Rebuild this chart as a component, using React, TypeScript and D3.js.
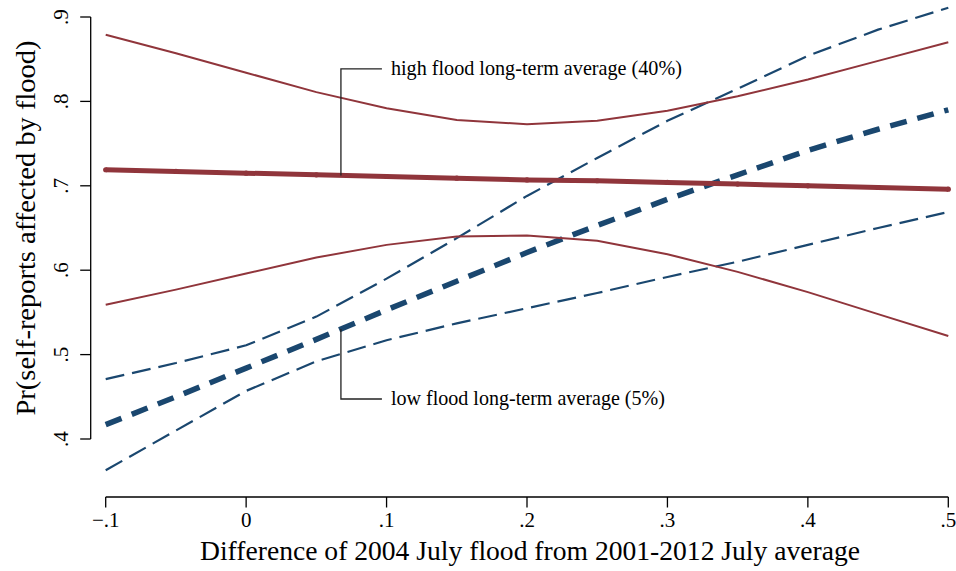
import * as d3 from "d3";

// x grid of the margins plot
const xs = [-0.1, -0.05, 0, 0.05, 0.1, 0.15, 0.2, 0.25, 0.3, 0.35, 0.4, 0.45, 0.5];

// high flood long-term average (40%)
const highMean = [0.719, 0.717, 0.715, 0.713, 0.711, 0.709, 0.707, 0.706, 0.704, 0.702, 0.7, 0.698, 0.696];
const highUpper = [0.879, 0.857, 0.834, 0.811, 0.792, 0.778, 0.773, 0.777, 0.789, 0.806, 0.826, 0.848, 0.87];
const highLower = [0.559, 0.577, 0.596, 0.615, 0.63, 0.64, 0.641, 0.635, 0.619, 0.598, 0.574, 0.548, 0.522];

// low flood long-term average (5%)
const lowMean = [0.417, 0.45, 0.484, 0.518, 0.553, 0.587, 0.621, 0.653, 0.684, 0.713, 0.742, 0.767, 0.79];
const lowUpper = [0.471, 0.49, 0.511, 0.545, 0.59, 0.638, 0.688, 0.733, 0.777, 0.815, 0.854, 0.885, 0.911];
const lowLower = [0.363, 0.41, 0.457, 0.492, 0.517, 0.537, 0.555, 0.573, 0.592, 0.61, 0.63, 0.65, 0.669];

const xTicks = [-0.1, 0, 0.1, 0.2, 0.3, 0.4, 0.5];
const xTickLabels = ["\u2212.1", "0", ".1", ".2", ".3", ".4", ".5"];
const yTicks = [0.4, 0.5, 0.6, 0.7, 0.8, 0.9];
const yTickLabels = [".4", ".5", ".6", ".7", ".8", ".9"];

const NAVY = "#1a476f";
const MAROON = "#90353b";
const FONT = "'Liberation Serif', 'Times New Roman', serif";

export default function App() {
  const width = 956;
  const height = 571;

  const x = d3.scaleLinear().domain([-0.1, 0.5]).range([105.7, 948.3]);
  const y = d3.scaleLinear().domain([0.4, 0.9]).range([439, 17]);

  const axisY = 497; // x-axis line position
  const axisX = 90.7; // y-axis line position

  const line = (vals: number[]) =>
    d3
      .line<number>()
      .x((_, i) => x(xs[i]))
      .y((d) => y(d))(vals) as string;

  // annotation anchor on the lines
  const anchorX = 0.0675;
  const interp = (vals: number[], v: number) => {
    const i = d3.bisectRight(xs, v) - 1;
    const t = (v - xs[i]) / (xs[i + 1] - xs[i]);
    return vals[i] + t * (vals[i + 1] - vals[i]);
  };
  const highLabelY = 0.8385;
  const lowLabelY = 0.4474;
  const ax = x(anchorX);

  return (
    <svg
      width={width}
      height={height}
      style={{ position: "absolute", left: 0, top: 0, background: "#fff" }}
      fontFamily={FONT}
    >
      <rect width={width} height={height} fill="#fff" />

      {/* low flood series */}
      <g fill="none" stroke={NAVY}>
        <path d={line(lowUpper)} strokeWidth={2.2} strokeDasharray="19 8" />
        <path d={line(lowLower)} strokeWidth={2.2} strokeDasharray="19 8" />
        <path d={line(lowMean)} strokeWidth={5.5} strokeDasharray="17 11" />
      </g>

      {/* high flood series */}
      <g fill="none" stroke={MAROON}>
        <path d={line(highUpper)} strokeWidth={2} />
        <path d={line(highLower)} strokeWidth={2} />
        <path d={line(highMean)} strokeWidth={5} />
      </g>
      {highMean.map((d, i) => (
        <circle key={i} cx={x(xs[i])} cy={y(d)} r={2.6} fill={MAROON} />
      ))}

      {/* annotation leaders */}
      <g fill="none" stroke="#222" strokeWidth={1.3}>
        <polyline
          points={`${ax},${y(interp(highMean, anchorX))} ${ax},${y(highLabelY)} ${ax + 41},${y(highLabelY)}`}
        />
        <polyline
          points={`${ax},${y(interp(lowMean, anchorX))} ${ax},${y(lowLabelY)} ${ax + 41},${y(lowLabelY)}`}
        />
      </g>
      <g fontSize={21} fill="#000">
        <text x={ax + 50} y={y(highLabelY) + 6.5} textLength={291} lengthAdjust="spacingAndGlyphs">
          high flood long-term average (40%)
        </text>
        <text x={ax + 50} y={y(lowLabelY) + 6.5} textLength={274} lengthAdjust="spacingAndGlyphs">
          low flood long-term average (5%)
        </text>
      </g>

      {/* y axis */}
      <g stroke="#000" strokeWidth={1.3}>
        <line x1={axisX} x2={axisX} y1={y(0.9)} y2={y(0.4)} />
        {yTicks.map((t) => (
          <line key={t} x1={axisX - 10.5} x2={axisX} y1={y(t)} y2={y(t)} />
        ))}
      </g>
      {yTicks.map((t, i) => (
        <text
          key={t}
          transform={`translate(68, ${y(t)}) rotate(-90)`}
          textAnchor="middle"
          fontSize={21}
        >
          {yTickLabels[i]}
        </text>
      ))}
      <text
        transform={`translate(35, 228) rotate(-90)`}
        textAnchor="middle"
        fontSize={27}
        textLength={375}
        lengthAdjust="spacingAndGlyphs"
      >
        Pr(self-reports affected by flood)
      </text>

      {/* x axis */}
      <g stroke="#000" strokeWidth={1.3}>
        <line x1={x(-0.1)} x2={x(0.5)} y1={axisY} y2={axisY} />
        {xTicks.map((t) => (
          <line key={t} x1={x(t)} x2={x(t)} y1={axisY} y2={axisY + 10.5} />
        ))}
      </g>
      {xTicks.map((t, i) => (
        <text key={t} x={x(t)} y={axisY + 30} textAnchor="middle" fontSize={21}>
          {xTickLabels[i]}
        </text>
      ))}
      <text
        x={(x(-0.1) + x(0.5)) / 2 + 3}
        y={560}
        textAnchor="middle"
        fontSize={27}
        textLength={660}
        lengthAdjust="spacingAndGlyphs"
      >
        Difference of 2004 July flood from 2001-2012 July average
      </text>
    </svg>
  );
}
